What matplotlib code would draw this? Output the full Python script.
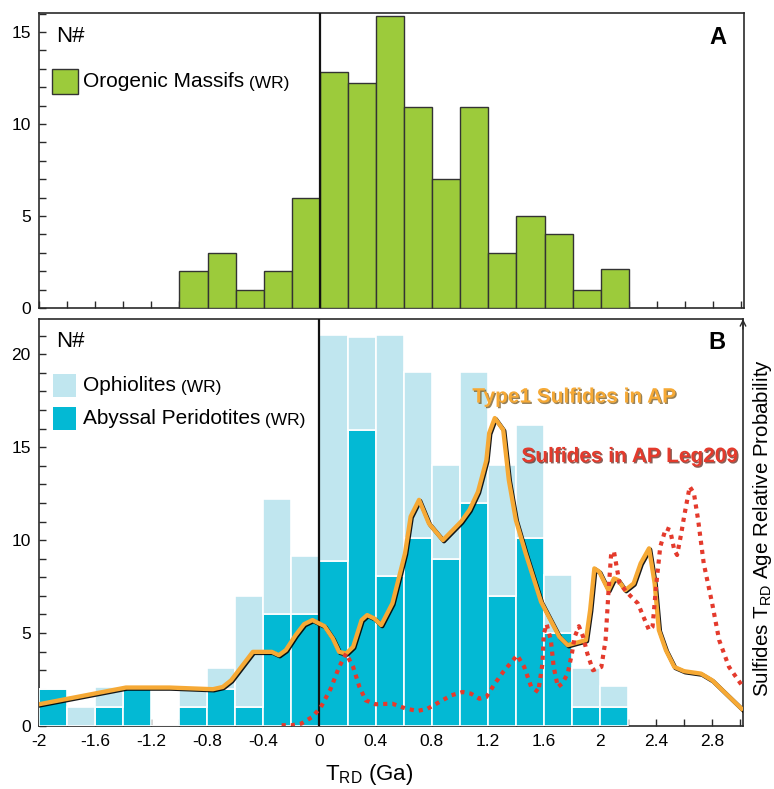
import matplotlib
matplotlib.use("Agg")
import matplotlib.pyplot as plt
import matplotlib.patheffects as pe
from matplotlib.patches import Rectangle
from matplotlib.ticker import MultipleLocator, FuncFormatter
import numpy as np

plt.rcParams['font.family'] = ['Liberation Sans', 'DejaVu Sans']
plt.rcParams['mathtext.fontset'] = 'custom'
plt.rcParams['mathtext.rm'] = 'Liberation Sans'
plt.rcParams['mathtext.it'] = 'Liberation Sans:italic'

# ---------------- data ----------------
# Panel A: Orogenic massifs (WR), bin left edges (Ga) and counts
orog_bins = [-1.0, -0.8, -0.6, -0.4, -0.2, 0.0, 0.2, 0.4, 0.6, 0.8, 1.0, 1.2, 1.4, 1.6, 1.8, 2.0]
orog_counts = [2, 3, 1, 2, 6, 12.8, 12.2, 15.85, 10.9, 7, 10.9, 3, 5, 4, 1, 2.1]

# Panel B: bin left edges (Ga)
b_bins = [-2.0, -1.8, -1.6, -1.4, -1.2, -1.0, -0.8, -0.6, -0.4, -0.2,
          0.0, 0.2, 0.4, 0.6, 0.8, 1.0, 1.2, 1.4, 1.6, 1.8, 2.0]
abyssal = [2, 0, 1, 2, 0, 1, 2, 1, 6, 6,
           8.9, 15.95, 8.05, 10.1, 9.0, 12.0, 7.0, 10.1, 5.0, 1.0, 1.0]
ophiolites = [0, 1, 1.1, 0, 0, 1.1, 1.1, 6, 6.2, 3.15,
              12.15, 5.0, 13.0, 8.95, 5.05, 7.05, 7.05, 6.1, 3.15, 2.1, 1.15]

# Type1 sulfides in AP (relative probability curve)
type1_x = [-2.0, -1.38, -1.07, -0.76, -0.69, -0.63, -0.475, -0.34, -0.29, -0.24, -0.17, -0.11,
           -0.05, 0.036, 0.095, 0.14, 0.19, 0.24, 0.30, 0.34, 0.39, 0.44, 0.52, 0.61, 0.65,
           0.71, 0.78, 0.88, 1.01, 1.07, 1.13, 1.19, 1.21, 1.25, 1.31, 1.35, 1.40, 1.47, 1.58,
           1.71, 1.77, 1.90, 1.93, 1.96, 1.995, 2.03, 2.06, 2.10, 2.13, 2.18, 2.24, 2.29, 2.35,
           2.39, 2.42, 2.47, 2.53, 2.60, 2.72, 2.80, 3.01]
type1_y = [1.17, 2.07, 2.07, 1.98, 2.1, 2.46, 3.99, 3.99, 3.81, 4.08, 4.89, 5.48,
           5.70, 5.37, 4.71, 3.99, 3.9, 4.26, 5.70, 5.97, 5.79, 5.43, 6.6, 9.29, 11.27,
           12.17, 10.9, 10.0, 11.0, 11.63, 12.6, 14.3, 15.76, 16.57, 15.94, 13.24, 11.09, 9.29, 6.68,
           4.8, 4.35, 4.62, 6.24, 8.48, 8.3, 7.76, 7.31, 7.94, 7.85, 7.31, 7.67, 8.75, 9.56,
           7.67, 5.16, 4.08, 3.18, 2.95, 2.82, 2.46, 0.93]

# Sulfides in AP Leg209 (relative probability curve)
leg209_x = [-0.27, -0.20, -0.13, -0.05, 0.01, 0.08, 0.14, 0.19, 0.24, 0.285, 0.33, 0.40,
            0.52, 0.62, 0.70, 0.77, 0.855, 0.94, 1.02, 1.08, 1.14, 1.19, 1.25, 1.31, 1.37,
            1.41, 1.46, 1.51, 1.56, 1.59, 1.60, 1.62, 1.65, 1.67, 1.70, 1.73, 1.77, 1.80,
            1.82, 1.85, 1.88, 1.91, 1.95, 2.01, 2.04, 2.06, 2.08, 2.10, 2.14, 2.20, 2.27,
            2.32, 2.35, 2.375, 2.40, 2.43, 2.47, 2.50, 2.53, 2.55, 2.58, 2.60, 2.64, 2.67,
            2.70, 2.74, 2.80, 2.85, 2.92, 3.02]
leg209_y = [0.04, 0.04, 0.13, 0.49, 1.02, 2.01, 3.18, 3.9, 3.18, 2.1, 1.38, 1.17,
            1.2, 0.93, 0.81, 0.93, 1.29, 1.65, 1.83, 1.74, 1.47, 1.56, 2.28, 2.91, 3.45,
            3.81, 3.18, 2.1, 1.83, 3.36, 4.98, 5.48, 4.62, 3.18, 2.1, 2.28, 2.82, 3.9,
            4.8, 5.37, 4.8, 3.9, 3.0, 3.18, 4.62, 7.13, 9.29, 9.38, 7.67, 7.13, 6.6,
            5.70, 5.16, 5.34, 7.49, 9.65, 10.64, 10.55, 9.47, 9.2, 10.37, 11.27, 12.88, 12.52,
            11.09, 8.75, 6.6, 4.62, 3.18, 2.1]

x_major = [-2, -1.6, -1.2, -0.8, -0.4, 0, 0.4, 0.8, 1.2, 1.6, 2, 2.4, 2.8]

# ---------------- style ----------------
GREEN = '#9ccb3b'
LIGHT = '#c0e6ef'
DARK = '#03b9d4'
ORANGE = '#f6a935'
RED = '#e43a2c'
SPINE = '#2a2a2a'
W, H = 774, 789

fig = plt.figure(figsize=(7.74, 7.89), dpi=100)
axA = fig.add_axes([39 / W, 1 - 308 / H, 705 / W, 295 / H])
axB = fig.add_axes([39 / W, 1 - 726 / H, 704 / W, 407 / H])

def fmt(v, pos):
    if abs(v) < 1e-9:
        return '0'
    s = f'{v:.1f}'
    if s.endswith('.0'):
        s = s[:-2]
    return s

for ax in (axA, axB):
    ax.set_xlim(-2, 3.02)
    for s in ax.spines.values():
        s.set_color(SPINE)
        s.set_linewidth(1.2)
    ax.xaxis.set_major_locator(plt.FixedLocator(x_major))
    ax.xaxis.set_minor_locator(MultipleLocator(0.2))
    ax.yaxis.set_major_locator(MultipleLocator(5))
    ax.yaxis.set_minor_locator(MultipleLocator(1))
    ax.tick_params(which='both', direction='in', length=5, width=1, color=SPINE,
                   labelsize=12.5, pad=6)
    ax.axvline(0, color='#111111', lw=1.6, zorder=6)

# Panel A
axA.set_ylim(0, 16.03)
axA.bar(orog_bins, orog_counts, width=0.2, align='edge', color=GREEN,
        edgecolor='#333333', linewidth=1.0, zorder=3)
axA.tick_params(axis='x', which='both', labelbottom=False)
axA.text(0.025, 0.955, 'N#', transform=axA.transAxes, fontsize=16, va='top', ha='left')
axA.text(0.975, 0.955, 'A', transform=axA.transAxes, fontsize=17, fontweight='bold',
         va='top', ha='right')
axA.add_patch(Rectangle((13 / 705, (308 - 94) / 295), 26 / 705, 25 / 295,
                        transform=axA.transAxes, facecolor=GREEN, edgecolor='#333333',
                        lw=1.0, zorder=7))
tA = axA.text(44 / 705, (308 - 81.5) / 295, 'Orogenic Massifs', transform=axA.transAxes,
              fontsize=15, va='center', ha='left')
axA.annotate(' (WR)', xy=(1, 0), xycoords=tA, fontsize=12.5, va='bottom', ha='left')

# Panel B
axB.set_ylim(0, 21.9)
axB.bar(b_bins, abyssal, width=0.2, align='edge', color=DARK, edgecolor='white',
        linewidth=1.2, zorder=3)
axB.bar(b_bins, ophiolites, bottom=abyssal, width=0.2, align='edge', color=LIGHT,
        edgecolor='white', linewidth=1.2, zorder=3)
axB.xaxis.set_major_formatter(FuncFormatter(fmt))
axB.text(0.025, 0.97, 'N#', transform=axB.transAxes, fontsize=16, va='top', ha='left')
axB.text(0.975, 0.97, 'B', transform=axB.transAxes, fontsize=17, fontweight='bold',
         va='top', ha='right')
axB.spines['right'].set_visible(False)

leg_items = [(LIGHT, 'Ophiolites', 385.5), (DARK, 'Abyssal Peridotites', 418.5)]
for col, lab, yc in leg_items:
    axB.add_patch(Rectangle((14 / 704, (726 - yc - 11.5) / 407), 23 / 704, 23 / 407,
                            transform=axB.transAxes, facecolor=col, edgecolor='none',
                            zorder=7))
    t = axB.text(44 / 704, (726 - yc) / 407, lab, transform=axB.transAxes, fontsize=15,
                 va='center', ha='left', zorder=8)
    axB.annotate(' (WR)', xy=(1, 0), xycoords=t, fontsize=12.5, va='bottom', ha='left')

axB.set_xlabel('T$_{\\rm RD}$ (Ga)', fontsize=16)
axB.xaxis.set_label_coords((369 - 39) / 704, -0.118)
axB.xaxis.label.set_va('center')

tw = axB.twinx()
tw.set_ylim(0, 21.9)
tw.set_yticks([])
tw.spines['right'].set_color(SPINE)
tw.spines['right'].set_linewidth(1.2)
for k in ('top', 'left', 'bottom'):
    tw.spines[k].set_visible(False)
tw.set_ylabel('Sulfides T$_{\\rm RD}$ Age Relative Probability', fontsize=14.8)
tw.yaxis.set_label_coords(1 + 20 / 704, 0.487)
tw.yaxis.label.set_va('center')
tw.annotate('', xy=(1, 1.0), xytext=(1, 0.975), xycoords='axes fraction',
            arrowprops=dict(arrowstyle='->', lw=1.0, color=SPINE, shrinkA=0, shrinkB=0))

tw.plot(type1_x, type1_y, color=ORANGE, lw=3.1, solid_joinstyle='round', zorder=4,
        path_effects=[pe.SimpleLineShadow(offset=(0.8, -0.8), shadow_color='black', alpha=0.9),
                      pe.Normal()])
tw.plot(leg209_x, leg209_y, color=RED, lw=3.0, linestyle=(0, (1, 1.2)), zorder=5)

tw.text(1.09, 17.7, 'Type1 Sulfides in AP', color=ORANGE, fontsize=15, fontweight='bold',
        va='center', ha='left',
        path_effects=[pe.withSimplePatchShadow(offset=(1, -1), shadow_rgbFace='#6a4a10', alpha=0.7)])
tw.text(1.44, 14.5, 'Sulfides in AP Leg209', color=RED, fontsize=15, fontweight='bold',
        va='center', ha='left',
        path_effects=[pe.withSimplePatchShadow(offset=(1, -1), shadow_rgbFace='#5a1a10', alpha=0.7)])

fig.savefig('out.png', dpi=100)
